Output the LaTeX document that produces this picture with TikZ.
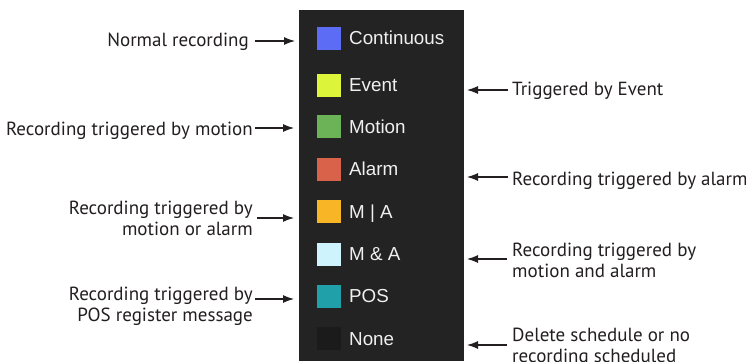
\documentclass[tikz,border=0pt]{standalone}
\usepackage{fontspec}
\setmainfont{PT Sans}
\newfontfamily\panelfont{Liberation Sans}
\usetikzlibrary{arrows.meta}
\definecolor{panelbg}{HTML}{232323}
\definecolor{cCont}{HTML}{5C6CF4}
\definecolor{cEvent}{HTML}{DCF53A}
\definecolor{cMotion}{HTML}{6CB257}
\definecolor{cAlarm}{HTML}{D9634A}
\definecolor{cMA}{HTML}{F8B526}
\definecolor{cMandA}{HTML}{CEF3FC}
\definecolor{cPOS}{HTML}{20A0A8}
\definecolor{cNone}{HTML}{1B1B1B}
\definecolor{lbl}{HTML}{231F20}
\tikzset{
  swatch/.style={minimum width=24pt,minimum height=23pt,inner sep=0pt,draw=none},
  paneltext/.style={anchor=base west,inner sep=0pt,text=white!94!black,font=\panelfont\fontsize{18.8}{21}\selectfont},
  lefttext/.style={inner sep=0pt,align=right,text=lbl,font=\fontsize{19}{21}\selectfont},
  righttext/.style={inner sep=0pt,align=left,text=lbl,font=\fontsize{19}{21}\selectfont},
  pointer/.style={draw=lbl,line width=1.1pt,-{Latex[length=11pt,width=8pt]}}
}
\begin{document}
\begin{tikzpicture}[x=1pt,y=-1pt]
\useasboundingbox (0,0) rectangle (746,361);
\fill[white] (0,0) rectangle (746,361);
\node[fill=panelbg,minimum width=165pt,minimum height=351pt,inner sep=0pt,anchor=north west] (panel) at (299,10) {};
% swatches and panel labels
\foreach \n/\c/\y/\t in {s1/cCont/38.5/Continuous, s2/cEvent/85/Event, s3/cMotion/126.5/Motion, s4/cAlarm/169/Alarm, s5/cMA/211.5/M | A, s6/cMandA/254/M \& A, s7/cPOS/296/POS, s8/cNone/338.5/None}{
  \node[swatch,fill=\c] (\n) at (329,\y) {};
  \node[paneltext] (\n t) at (349,\y+6.5) {\t};
}
% left labels (base anchor = baseline of the last line)
\node[lefttext,anchor=base east] (l1) at (249,47) {Normal recording};
\node[lefttext,anchor=base east] (l2) at (253,135) {Recording triggered by motion};
\node[lefttext,anchor=base east] (l3) at (253,235) {Recording triggered by\\motion or alarm};
\node[lefttext,anchor=base east] (l4) at (253,321) {Recording triggered by\\POS register message};
% right labels
\node[righttext,anchor=base west] (r1) at (512,95) {Triggered by Event};
\node[righttext,anchor=base west] (r2) at (512,185) {Recording triggered by alarm};
\node[righttext,anchor=base west] (r3) at (512,277) {Recording triggered by\\motion and alarm};
\node[righttext,anchor=base west] (r4) at (512,362) {Delete schedule or no\\recording scheduled};
% arrow ends
\coordinate (a1s) at (255,41);  \coordinate (a1e) at (295,41);
\coordinate (a2s) at (255,128); \coordinate (a2e) at (294,128);
\coordinate (a3s) at (257,218); \coordinate (a3e) at (294,218);
\coordinate (a4s) at (255,299); \coordinate (a4e) at (294,299);
\coordinate (b1s) at (508,90);  \coordinate (b1e) at (467,90);
\coordinate (b2s) at (508,177); \coordinate (b2e) at (467,177);
\coordinate (b3s) at (507,259); \coordinate (b3e) at (467,259);
\coordinate (b4s) at (507,345); \coordinate (b4e) at (467,345);
\foreach \s/\e in {a1s/a1e,a2s/a2e,a3s/a3e,a4s/a4e,b1s/b1e,b2s/b2e,b3s/b3e,b4s/b4e}
  \draw[pointer] (\s) -- (\e);
\end{tikzpicture}
\end{document}
